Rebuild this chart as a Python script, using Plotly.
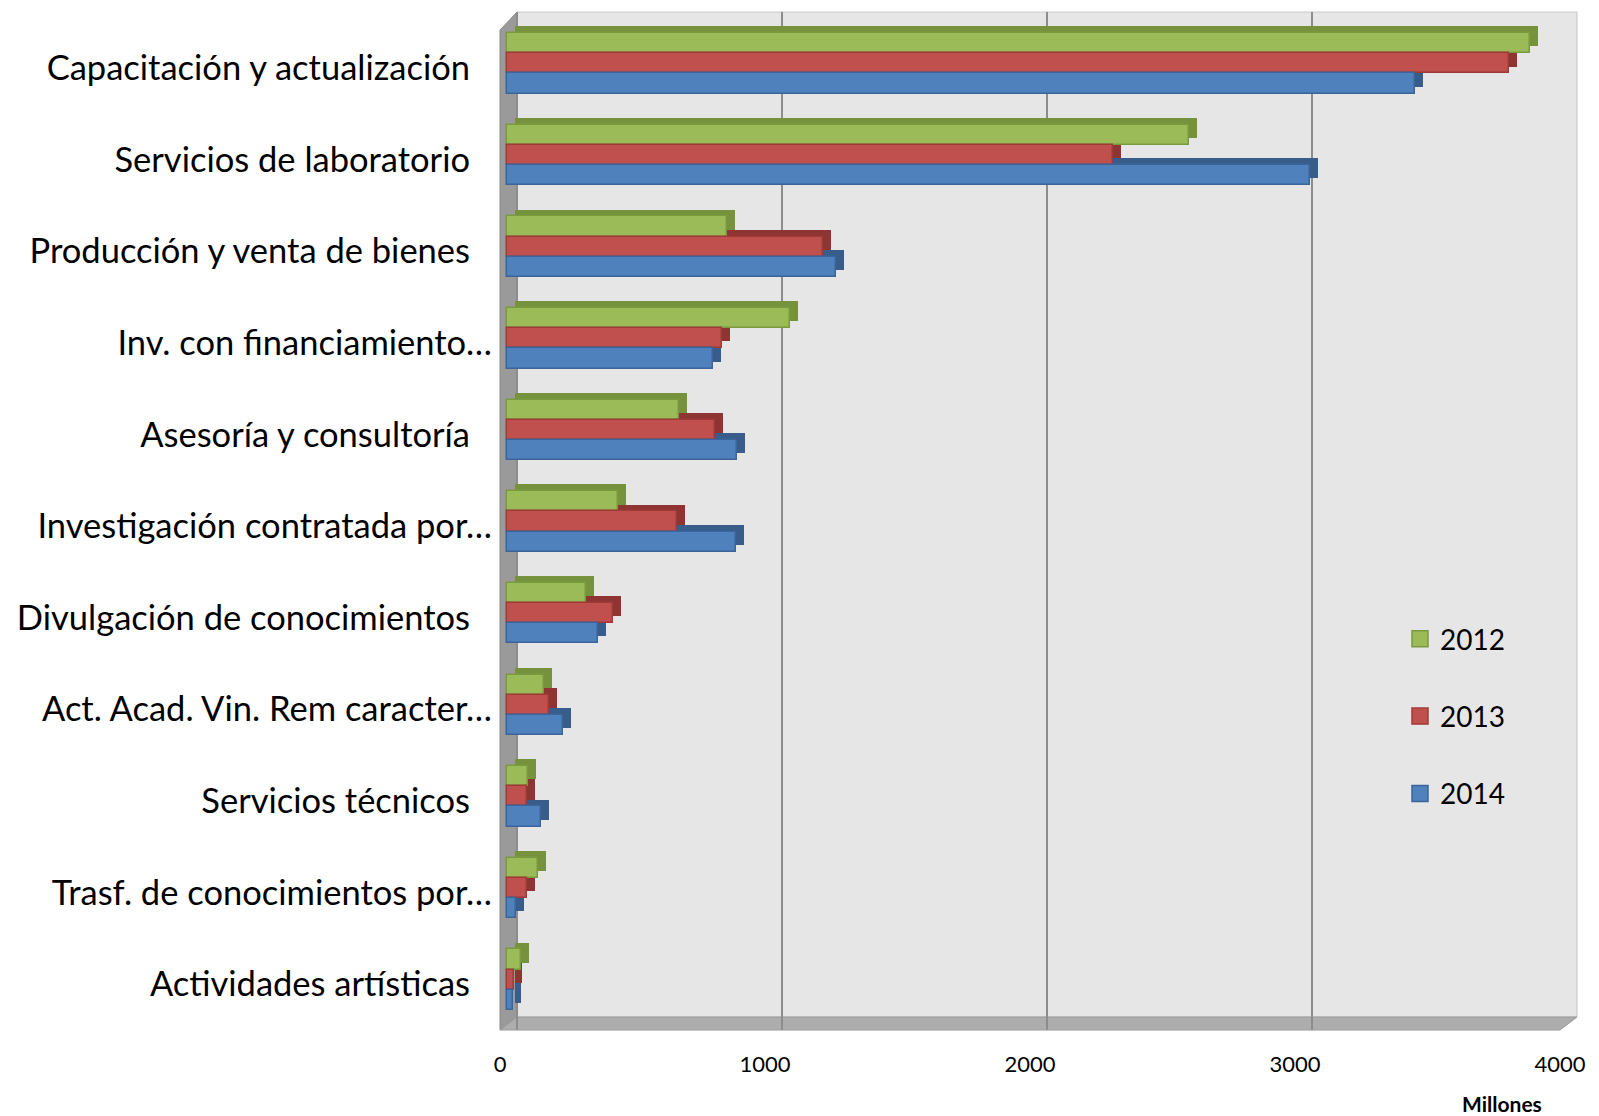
import plotly.graph_objects as go

categories = [
    "Capacitación y actualización",
    "Servicios de laboratorio",
    "Producción y venta de bienes",
    "Inv. con financiamiento…",
    "Asesoría y consultoría",
    "Investigación contratada por…",
    "Divulgación de conocimientos",
    "Act. Acad. Vin. Rem caracter…",
    "Servicios técnicos",
    "Trasf. de conocimientos por…",
    "Actividades artísticas",
]
years = ["2012", "2013", "2014"]
v2012 = [3860, 2574, 829, 1067, 650, 418, 298, 138, 79, 116, 54]
v2013 = [3781, 2286, 1194, 810, 785, 640, 399, 160, 75, 75, 28]
v2014 = [3425, 3032, 1243, 779, 867, 864, 343, 210, 129, 33, 22]
x_ticks = [0, 1000, 2000, 3000, 4000]

series = [v2012, v2013, v2014]
front_colors = ["#9BBB59", "#C0504D", "#4F81BD"]
line_colors = ["#7A9A3E", "#9E3B38", "#3B659A"]
depth_colors = ["#76923C", "#8E3533", "#385D8A"]

FONT = "Lato"
OFF = 8  # default page margin of the html body
W, H = 1599 - OFF, 1116 - OFF
XMAX = 4000
S = 0.265  # px per unit
# plot area in page pixels (front edge of the floor)
PL, PT, PB = 500, 12, 1030
PR = PL + XMAX * S
L, T = PL - OFF, PT - OFF
R = W - (PR - OFF)
B = H - (PB - OFF)
PW = PR - PL
PH = PB - PT


def px(xp):
    return (xp - PL) / PW


def py(yp):
    return (PB - yp) / PH


def shifted_range(zero_px):
    r0 = (PL - zero_px) / S
    return [r0, r0 + XMAX]


def ticklabel(c):
    return c if c.endswith("…") else c + "\u00a0\u00a0\u2009"


fig = go.Figure()

bar_w = 0.22
offsets = [-0.38, -0.16, 0.06]
depth_dx = 30
depth_dy = 0.075

# depth (3D side) faces first
for k in range(3):
    fig.add_trace(go.Bar(
        y=categories, x=series[k], base=depth_dx, orientation="h",
        width=bar_w, offset=offsets[k] - depth_dy,
        marker=dict(color=depth_colors[k], line=dict(width=0)),
        showlegend=False, hoverinfo="skip",
    ))
# front faces
for k in range(3):
    fig.add_trace(go.Bar(
        y=categories, x=series[k], orientation="h", name=years[k],
        width=bar_w, offset=offsets[k],
        marker=dict(color=front_colors[k], line=dict(color=line_colors[k], width=1.5)),
        showlegend=False,
    ))
# legend entries (square swatches)
for k in range(3):
    fig.add_trace(go.Scatter(
        x=[None], y=[None], mode="markers", name=years[k], legendgroup=years[k],
        marker=dict(symbol="square", size=17, color=front_colors[k],
                    line=dict(color=line_colors[k], width=1.5)),
    ))

# invisible traces to activate the overlaying axes
fig.add_trace(go.Scatter(x=[0], y=[categories[0]], xaxis="x2", mode="markers",
                         marker=dict(opacity=0), showlegend=False, hoverinfo="skip"))
fig.add_trace(go.Scatter(x=[0], y=[categories[0]], xaxis="x3", mode="markers",
                         marker=dict(opacity=0), showlegend=False, hoverinfo="skip"))

shapes = [
    # back wall
    dict(type="rect", xref="paper", yref="paper", layer="below",
         x0=px(517), x1=px(1577), y0=py(1017), y1=py(12),
         fillcolor="#E6E6E6", line=dict(color="#C8C8C8", width=1)),
    # left wall
    dict(type="path", xref="paper", yref="paper", layer="below",
         path=f"M {px(500)} {py(30)} L {px(517)} {py(12)} L {px(517)} {py(1017)} L {px(500)} {py(1030)} Z",
         fillcolor="#9A9A9A", line=dict(color="#8A8A8A", width=1)),
    # floor
    dict(type="path", xref="paper", yref="paper", layer="below",
         path=f"M {px(500)} {py(1030)} L {px(1560)} {py(1030)} L {px(1577)} {py(1017)} L {px(517)} {py(1017)} Z",
         fillcolor="#ADADAD", line=dict(color="#9A9A9A", width=1)),
]

fig.update_layout(
    width=W, height=H,
    margin=dict(l=L, r=R, t=T, b=B),
    barmode="overlay",
    paper_bgcolor="white", plot_bgcolor="rgba(0,0,0,0)",
    font=dict(family=FONT, color="black"),
    shapes=shapes,
    xaxis=dict(range=shifted_range(507), showticklabels=False, showgrid=False,
               zeroline=False, showline=False, automargin=False),
    xaxis2=dict(range=shifted_range(517), overlaying="x", side="bottom", tickvals=x_ticks,
                showticklabels=False, showgrid=True, gridcolor="#8C8C8C", gridwidth=2,
                zeroline=False, showline=False, automargin=False),
    xaxis3=dict(range=[0, XMAX], overlaying="x", side="bottom", tickvals=x_ticks,
                ticktext=[str(t) for t in x_ticks], showgrid=False, zeroline=False,
                showline=False, automargin=False,
                tickfont=dict(size=22, family=FONT), ticklabelstandoff=19),
    yaxis=dict(range=[10.5, -0.611], tickmode="array", tickvals=categories,
               ticktext=[ticklabel(c) for c in categories],
               showgrid=False, zeroline=False, showline=False, automargin=False,
               tickfont=dict(size=34.5, family=FONT), ticklabelstandoff=7),
    legend=dict(x=px(1400), y=py(614), xanchor="left", yanchor="top",
                bgcolor="rgba(0,0,0,0)", font=dict(size=28, family=FONT),
                traceorder="grouped", tracegroupgap=38, itemwidth=30),
    annotations=[dict(text="<b>Millones</b>", xref="paper", yref="paper",
                      x=px(1502), y=py(1103), xanchor="center", yanchor="middle",
                      showarrow=False, font=dict(size=21, family=FONT))],
    bargap=0,
)

fig.write_html("out.html")
